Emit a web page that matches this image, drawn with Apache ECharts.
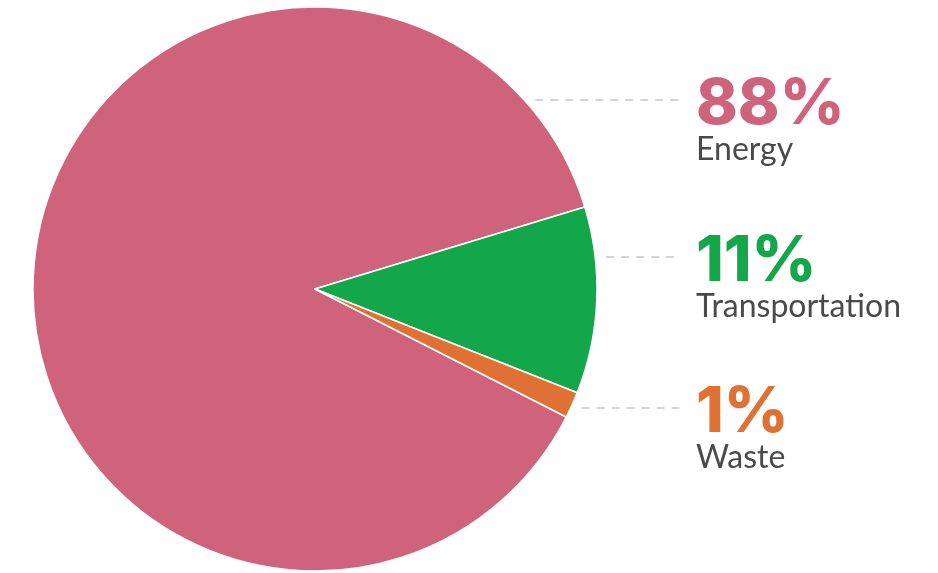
<!DOCTYPE html>
<html>
<head>
<meta charset="utf-8">
<script src="https://cdn.jsdelivr.net/npm/echarts@6/dist/echarts.min.js"></script>
<style>
  html, body { margin: 0; padding: 0; background: #fff; }
  #chart { width: 938px; height: 573px; }
</style>
</head>
<body>
<div id="chart"></div>
<script>
// data
var categories = ['Energy', 'Transportation', 'Waste'];
var shares = [87.8, 10.7, 1.5];
var shareLabels = ['88%', '11%', '1%'];
var colors = ['#D0637C', '#14A64A', '#E07135'];

// where each label sits (leader line height)
var labelLineY = [100, 257, 408];
var labelX = 696;
var lineEndX = 680;

var cx = 315, cy = 289, r = 282;

var chart = echarts.init(document.getElementById('chart'));

var data = categories.map(function (name, i) {
    return {
        name: name,
        value: shares[i],
        itemStyle: { color: colors[i] },
        label: {
            rich: {
                pct: { color: colors[i] }
            }
        }
    };
});

chart.setOption({
    animation: false,
    series: [{
        type: 'pie',
        center: [cx, cy],
        radius: r,
        startAngle: 333,
        clockwise: true,
        avoidLabelOverlap: false,
        itemStyle: { borderColor: '#fff', borderWidth: 1.5 },
        label: {
            show: true,
            formatter: function (p) {
                return '{pct|' + shareLabels[p.dataIndex] + '}\n{name|' + p.name + '}';
            },
            rich: {
                pct: {
                    fontFamily: 'Inter',
                    fontWeight: 800,
                    fontSize: 63,
                    lineHeight: 52
                },
                name: {
                    fontFamily: 'Lato',
                    fontSize: 32,
                    color: '#4a4a4a',
                    lineHeight: 38
                }
            }
        },
        labelLine: {
            show: true,
            lineStyle: { color: '#aaa', width: 1.2, type: [8, 7] }
        },
        labelLayout: function (p) {
            var y = labelLineY[p.dataIndex];
            var x0 = cx + Math.sqrt(r * r - (y - cy) * (y - cy)) + 11;
            return {
                x: labelX,
                y: y + 24,
                align: 'left',
                verticalAlign: 'middle',
                labelLinePoints: [[x0, y], [lineEndX, y], [lineEndX, y]]
            };
        },
        data: data
    }]
});
</script>
</body>
</html>
